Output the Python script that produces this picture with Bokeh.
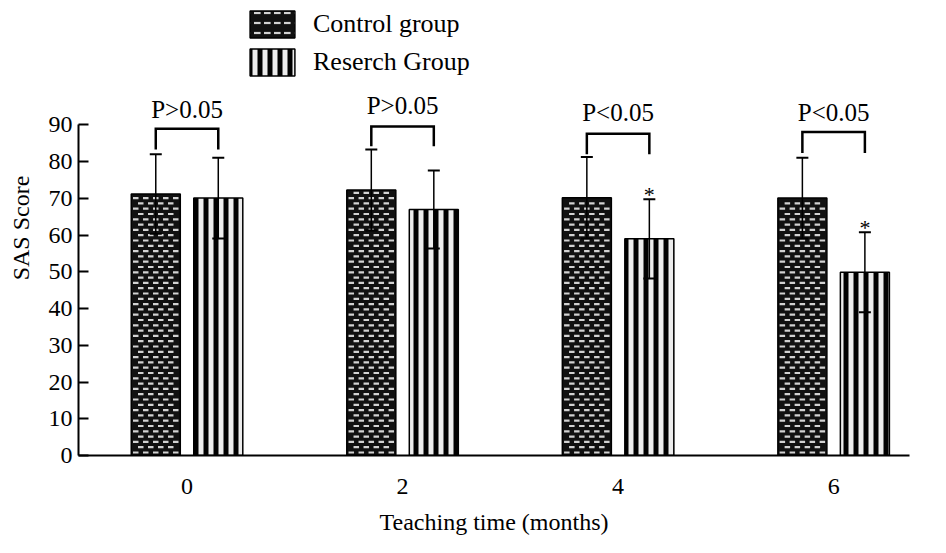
from bokeh.plotting import figure
from bokeh.models import (Range1d, ColumnDataSource, Whisker, TeeHead, FixedTicker,
                          Legend, LegendItem)
from bokeh.core.properties import value
from bokeh.embed import file_html
from bokeh.resources import INLINE

# ---- data ----
months = [0, 2, 4, 6]
month_labels = ["0", "2", "4", "6"]
control_mean = [71.2, 72.3, 70.2, 70.1]
control_sd = [10.8, 11.0, 11.1, 11.0]
research_mean = [70.1, 67.0, 59.0, 49.9]
research_sd = [11.0, 10.6, 10.8, 10.9]
p_labels = ["P>0.05", "P>0.05", "P<0.05", "P<0.05"]
bracket_top = [89.0, 89.6, 87.6, 88.1]
bracket_bottom = [83.3, 84.2, 82.0, 82.4]
p_label_y = [94.2, 95.3, 93.4, 93.4]
sig_star = ["", "", "*", "*"]
y_ticks = [0, 10, 20, 30, 40, 50, 60, 70, 80, 90]

FONT = "Liberation Serif"
OFF = 0.29
W = 0.455
XR = (-1.007, 6.704)
YR = (0, 123.9)
FIG_W, FIG_H = 930, 537
B_L, B_R, B_T, B_B = 78, 21, 0, 82

xc = [m - OFF for m in months]
xr = [m + OFF for m in months]

p = figure(width=FIG_W, height=FIG_H, output_backend="svg", toolbar_location=None,
           x_range=Range1d(*XR), y_range=Range1d(*YR),
           min_border_left=B_L, min_border_right=B_R, min_border_top=B_T, min_border_bottom=B_B)
p.outline_line_color = None
p.xgrid.visible = False
p.ygrid.visible = False
p.background_fill_color = "white"

src_c = ColumnDataSource(dict(x=xc, top=control_mean))
src_r = ColumnDataSource(dict(x=xr, top=research_mean))

rc = p.vbar(x="x", top="top", width=W, bottom=0, source=src_c,
            fill_color="#111111", line_color="black", line_width=1.5)

# woven texture of the control bars: staggered light dashes derived from each bar's extent
PXX = (FIG_W - B_L - B_R) / (XR[1] - XR[0])
PXY = (FIG_H - B_T - B_B) / (YR[1] - YR[0])
bar_px = W * PXX
dot_x, dot_y = [], []
for cx, top in zip(xc, control_mean):
    left = cx - W / 2
    top_px = top * PXY
    r = 0
    while True:
        ypx = 3.0 + r * 5.3
        if ypx > top_px - 2.5:
            break
        xpx = (5.0 if r % 2 else 0.0) + 4.5
        while xpx < bar_px - 3.0:
            dot_x.append(left + xpx / PXX)
            dot_y.append(ypx / PXY)
            xpx += 10.0
        r += 1
p.scatter(x=dot_x, y=dot_y, marker="dash", size=5.5, line_color="#d2d2d2", line_width=2.2)

rr = p.vbar(x="x", top="top", width=W, bottom=0, source=src_r,
            fill_color="#ececec", line_color="black", line_width=1.5,
            hatch_pattern="vertical_line", hatch_color="black",
            hatch_scale=10, hatch_weight=5)

# legend-only swatch for the control group (NaN data: nothing drawn in the plot)
nan = float("nan")
leg_c = p.vbar(x=[nan], top=[nan], width=W, bottom=0,
               fill_color="#111111", line_color="black", line_width=1.5,
               hatch_pattern="horizontal_dash", hatch_color="#d2d2d2",
               hatch_scale=10, hatch_weight=2.2)

for xs, m, sd in [(xc, control_mean, control_sd), (xr, research_mean, research_sd)]:
    es = ColumnDataSource(dict(base=xs, upper=[a + b for a, b in zip(m, sd)],
                               lower=[a - b for a, b in zip(m, sd)]))
    wk = Whisker(source=es, base="base", upper="upper", lower="lower", dimension="height",
                 line_color="black", line_width=1.5, level="overlay",
                 upper_head=TeeHead(size=12, line_width=2, line_color="black"),
                 lower_head=TeeHead(size=12, line_width=2, line_color="black"))
    p.add_layout(wk)

# significance brackets
bx = [[a, a, b, b] for a, b in zip(xc, xr)]
by = [[lo, hi, hi, lo] for lo, hi in zip(bracket_bottom, bracket_top)]
p.multi_line(xs=bx, ys=by, line_color="black", line_width=2.5, line_join="miter")

p.text(x=months, y=p_label_y, text=p_labels, text_align="center", text_baseline="middle",
       text_font=value(FONT), text_font_size="25px", text_color="black")

star_y = [a + b + 1.3 for a, b in zip(research_mean, research_sd)]
p.text(x=xr, y=star_y, text=sig_star, text_align="center", text_baseline="middle",
       text_font=value(FONT), text_font_size="22px", text_color="black")

# axes
p.yaxis.ticker = FixedTicker(ticks=y_ticks)
p.yaxis.bounds = (0, 90)
p.yaxis.major_tick_in = 10
p.yaxis.major_tick_out = 0
p.yaxis.minor_tick_line_color = None
p.yaxis.axis_line_width = 2
p.yaxis.major_tick_line_width = 2
p.yaxis.major_label_standoff = 6
p.yaxis.axis_label = "SAS Score"
p.yaxis.axis_label_standoff = 12

p.xaxis.ticker = FixedTicker(ticks=months)
p.xaxis.major_label_overrides = {m: l for m, l in zip(months, month_labels)}
p.xaxis.major_tick_in = 0
p.xaxis.major_tick_out = 0
p.xaxis.minor_tick_line_color = None
p.xaxis.axis_line_width = 2
p.xaxis.major_label_standoff = 23
p.xaxis.axis_label = "Teaching time (months)"
p.xaxis.axis_label_standoff = 12

for ax in (p.xaxis, p.yaxis):
    ax.axis_line_color = "black"
    ax.major_tick_line_color = "black"
    ax.major_label_text_font = FONT
    ax.major_label_text_font_size = "24px"
    ax.major_label_text_color = "black"
    ax.axis_label_text_font = FONT
    ax.axis_label_text_font_size = "24px"
    ax.axis_label_text_font_style = "normal"
    ax.axis_label_text_color = "black"

legend = Legend(items=[LegendItem(label="Control group", renderers=[leg_c]),
                       LegendItem(label="Reserch Group", renderers=[rr])],
                location=(166, 376), orientation="vertical",
                glyph_width=56, glyph_height=34, spacing=4, label_standoff=13,
                padding=0, margin=0, border_line_color=None, background_fill_alpha=0,
                label_text_font=FONT, label_text_font_size="26px", label_text_color="black")
p.add_layout(legend)

open("out.html", "w").write(file_html(p, INLINE))
